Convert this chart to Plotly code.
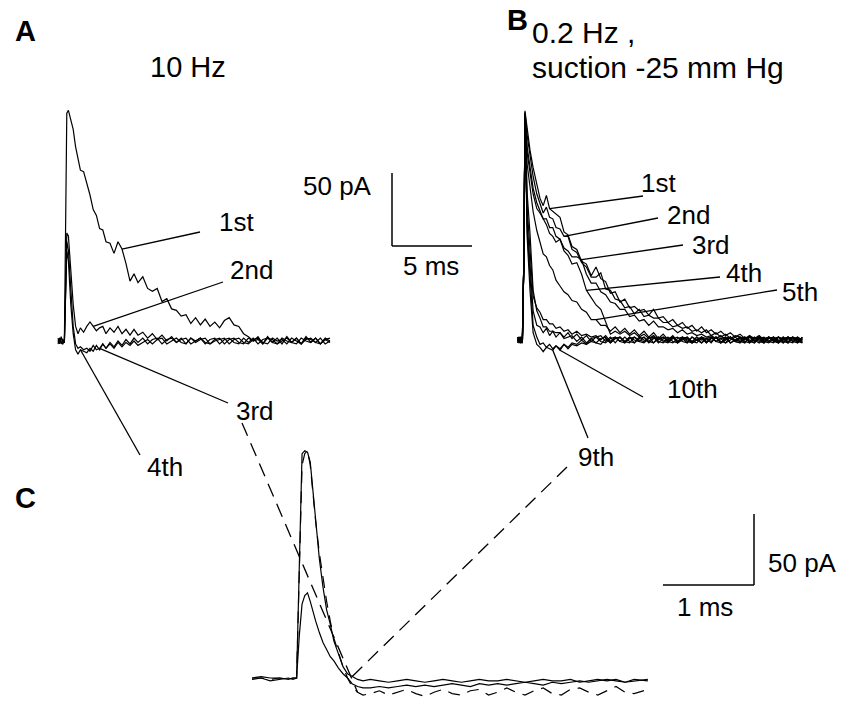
import plotly.graph_objects as go

W, H = 859, 705

# ---------------- Panel A (10 Hz): time (ms) and current (pA) ----------------
T_A = [0, 0.1, 0.2, 0.3, 0.4, 0.55, 0.65, 0.8, 0.95, 1.1,
       1.25, 1.4, 1.6, 1.8, 2.0, 2.2, 2.4, 2.6, 2.8, 3.0,
       3.25, 3.5, 3.75, 4.0, 4.25, 4.5, 4.75, 5.0, 5.3, 5.6,
       5.9, 6.2, 6.5, 6.8, 7.1, 7.4, 7.7, 8.0, 8.3, 8.6,
       8.9, 9.2, 9.5, 9.8, 10.1, 10.4, 10.7, 11.0, 11.3, 11.6,
       11.9, 12.2, 12.5, 12.8, 13.1, 13.4, 13.7, 14.0, 14.3, 14.6,
       14.9, 15.2, 15.5, 15.8, 16.1, 16.4, 16.7, 17.0]
A_1ST = [2, -2, 3, -1, 1, 156, 158, 152, 145, 133,
         126, 117, 116, 108, 100, 90, 86, 77, 76, 68,
         67, 60, 68, 63, 53, 41, 46, 40, 44, 36,
         34, 36, 27, 29, 22, 21, 17, 18, 12, 16,
         11, 15, 10, 13, 9, 14, 16, 11, 10, 5,
         3, 0, 3, -2, 3, -1, 2, -2, 3, -1,
         2, -2, 3, -1, 2, -2, 1, -1]
A_2ND = [-1, 2, -2, 1, 0, 74, 72, 50, 25, 10,
         5, 9, 6, 10, 13, 10, 7, 9, 10, 5,
         9, 6, 10, 5, 8, 4, 8, 4, 6, 2,
         5, 1, 4, 0, 3, -1, 2, -2, 2, 0,
         2, -2, 1, 2, -2, 1, 2, -1, -2, 2,
         -1, 2, -2, 1, 2, -1, -2, 2, 0, -1,
         2, -2, 1, 2, -1, -2, 2, 0]
A_3RD = [-2, 1, 2, -1, -1, 68, 62, 35, 10, -2,
         -5, -4, -6, -5, -7, -3, -6, -5, -2, -5,
         -1, -4, 0, -3, 1, -2, 2, -1, 2, -2,
         1, 2, -2, 1, 2, -1, 1, 2, -2, 0,
         2, -1, -2, 1, 2, -2, 1, 2, -1, -2,
         2, 0, 1, -2, 2, 1, -2, 0, 2, -1,
         -2, 2, 0, -1, 2, -2, 1, 2]
A_4TH = [0, 2, -1, -2, 0, 62, 55, 25, 5, -6,
         -9, -6, -7, -8, -5, -7, -3, -6, -2, -5,
         -2, -5, -1, -4, -1, -3, 0, -3, -1, 1,
         -2, 1, 2, -2, 0, 2, -1, -2, 2, -1,
         1, 2, -2, 0, 1, 2, -2, 1, 2, -1,
         -2, 1, 2, -1, -2, 2, 0, 1, -2, 2,
         0, -2, 2, 1, -1, 2, -2, 0]

# ---------------- Panel B (0.2 Hz, suction -25 mm Hg) ----------------
T_B = [0.1, 0.2, 0.3, 0.4, 0.5, 0.56, 0.7, 0.875, 1.07, 1.3,
       1.5, 1.7, 1.9, 2.1, 2.3, 2.5, 2.75, 3.0, 3.25, 3.5,
       3.8, 4.1, 4.4, 4.7, 5.0, 5.3, 5.6, 5.9, 6.2, 6.5,
       6.8, 7.1, 7.4, 7.7, 8.0, 8.3, 8.6, 8.9, 9.2, 9.5,
       9.8, 10.1, 10.4, 10.7, 11.0, 11.3, 11.6, 11.9, 12.2, 12.5,
       12.8, 13.1, 13.4, 13.7, 14.0, 14.3, 14.6, 14.9, 15.2, 15.5,
       15.8, 16.1, 16.4, 16.7, 17.0, 17.3, 17.6, 17.9]
B_1ST = [1, -2, 2, -1, 60, 157, 145, 130, 118, 106,
         97, 92, 99, 90, 88, 86, 84, 74, 72, 64,
         62, 54, 52, 44, 50, 42, 40, 32, 33, 26,
         28, 22, 23, 20, 21, 17, 21, 15, 16, 12,
         14, 10, 12, 8, 10, 6, 9, 5, 7, 4,
         6, 3, 5, 2, 4, 1, 3, 1, 3, 0,
         2, -1, 2, 0, 2, -1, 1, 0]
B_2ND = [-1, 1, 0, 2, 60, 156, 140, 126, 112, 100,
         93, 87, 91, 84, 83, 77, 76, 71, 71, 62,
         60, 53, 50, 43, 43, 46, 35, 34, 28, 27,
         22, 23, 18, 21, 16, 17, 15, 15, 12, 12,
         9, 10, 8, 9, 6, 7, 5, 7, 3, 5,
         2, 4, 1, 3, 2, 0, 3, -1, 2, 1,
         -1, 2, 0, -2, 2, 1, -1, 2]
B_3RD = [2, -1, 1, -2, 60, 155, 132, 118, 104, 94,
         89, 83, 83, 77, 77, 71, 69, 63, 61, 57,
         57, 55, 45, 39, 39, 33, 31, 26, 25, 21,
         21, 16, 17, 13, 14, 10, 13, 9, 9, 7,
         8, 5, 7, 4, 5, 3, 4, 2, 3, 1,
         3, 0, 2, -1, 2, 1, -1, 2, 0, -2,
         1, 2, -1, 1, -2, 2, 0, -1]
B_4TH = [-1, 1, -2, 2, 60, 155, 128, 114, 100, 90,
         87, 83, 79, 73, 71, 67, 69, 61, 58, 52,
         53, 45, 34, 29, 24, 21, 13, 4, 6, 4,
         6, 3, 5, 2, 4, 1, 3, 0, 2, -1,
         2, -2, 1, 2, -2, 0, 2, -2, 1, 2,
         -1, -2, 2, 0, -1, 2, -2, 1, 2, -1,
         1, 2, -2, 0, 2, -1, -2, 1]
B_5TH = [0, 2, -1, -2, 60, 155, 120, 103, 88, 75,
         67, 59, 57, 51, 48, 41, 37, 33, 31, 27,
         26, 21, 19, 14, 14, 10, 10, 6, 9, 5,
         8, 4, 7, 3, 6, 2, 5, 1, 4, 0,
         3, -1, 2, 1, -2, 0, 2, -1, 1, 2,
         -2, 1, 2, -1, -2, 1, 2, -1, 1, -2,
         2, 0, -1, 2, -2, 1, 2, -1]
B_6TH = [2, -1, -2, 1, 60, 154, 100, 73, 34, 20,
         15, 9, 9, 6, 6, 5, 5, 2, 5, 1,
         4, 0, 3, -1, 2, 3, -1, 2, -2, 2,
         -1, 2, -2, 1, 2, -1, -2, 2, 0, -1,
         2, -2, 0, 2, -1, -2, 2, 1, -1, 2,
         -2, 0, 2, -1, 1, -2, 2, 0, -2, 1,
         2, -1, -2, 2, 0, 1, -2, 2]
B_7TH = [-1, 2, 0, -2, 60, 154, 90, 60, 30, 22,
         19, 14, 14, 11, 11, 8, 9, 6, 7, 4,
         6, 3, 4, 2, 3, 0, 3, -1, 2, -1,
         -2, 2, 0, -1, 2, -2, 1, 2, -1, -2,
         1, 2, -1, -2, 2, 0, 1, -2, 2, -1,
         1, 2, -2, 0, 2, -1, -2, 1, 2, -1,
         -2, 1, 2, -1, -2, 2, 0, 1]
B_8TH = [-2, 1, 2, -1, 60, 154, 80, 50, 20, 10,
         9, 5, 8, 3, 6, 2, 5, 1, 2, 3,
         -1, 2, -2, 1, 2, -1, -2, 1, 2, -1,
         2, -1, -2, 2, 0, -1, 2, -2, 1, 2,
         -1, -2, 2, 0, -1, 2, -2, 1, 2, -1,
         -2, 2, 1, -1, -2, 2, 0, -2, 1, 2,
         -1, 0, 2, -2, 1, 2, -1, -2]
B_9TH = [1, -2, 1, 2, 60, 155, 70, 34, 5, -3,
         -5, -8, -5, -6, -7, -4, -6, -3, -5, -2,
         -3, 0, -3, 1, -2, 1, 2, -2, 1, 2,
         -1, -2, 2, 0, -1, 2, -2, 1, 2, -1,
         -2, 1, 2, -1, -2, 2, 0, 1, -2, 2,
         1, -2, 0, 2, -1, -2, 2, 1, -1, -2,
         2, 0, -2, 1, 2, -1, 1, -2]
B_10TH = [2, -1, 1, -2, 60, 155, 75, 40, 10, 2,
          -3, -2, -5, -3, -6, -4, -7, -3, -6, -3,
          -4, -2, -3, -1, -2, -3, 1, -2, 1, 2,
          -2, 1, 2, -1, -2, 1, 2, -1, -2, 1,
          2, -1, 1, -2, 2, 0, -2, 1, 2, -1,
          1, 2, -2, 0, 1, 2, -1, -2, 2, 0,
          -1, -2, 2, 1, -1, -2, 2, 0]

# ---------------- Panel C (expanded time base) ----------------
T_C = [0, 0.1, 0.2, 0.3, 0.4, 0.45, 0.49, 0.52, 0.55, 0.58,
       0.61, 0.64, 0.67, 0.7, 0.74, 0.78, 0.82, 0.86, 0.9, 0.95,
       1.0, 1.05, 1.1, 1.16, 1.22, 1.3, 1.4, 1.5, 1.6, 1.7,
       1.8, 1.9, 2.0, 2.1, 2.2, 2.3, 2.4, 2.5, 2.6, 2.7,
       2.8, 2.9, 3.0, 3.1, 3.2, 3.3, 3.4, 3.5, 3.6, 3.7,
       3.8, 3.9, 4.0, 4.1, 4.2, 4.35]
C_9TH = [0, 1, 0, 0, -1, 0, 0, 90, 158, 160,
         159, 152, 132, 112, 84, 64, 48, 38, 26, 17,
         8, 3, 1, -1, -2, -1, -2, -3, -2, -1,
         -2, -3, -2, -1, -2, -3, -2, -1, -2, -2,
         -1, -2, -3, -2, -1, -2, -2, -1, -3, -2,
         -1, -2, -1, -3, -2, -1]
C_3RD = [-1, 0, -2, -1, 0, -1, 0, 30, 52, 58,
         60, 54, 46, 40, 32, 25, 20, 15, 12, 7,
         3, 0, -4, -6, -7, -7, -6, -7, -6, -5,
         -6, -5, -6, -5, -4, -5, -6, -4, -5, -4,
         -5, -4, -3, -4, -5, -3, -4, -3, -2, -3,
         -2, -1, -2, -3, -1, -2]
C_3RD_SCALED = [0, 0, -1, 0, -1, 0, 0, 80, 150, 158,
                160, 150, 128, 110, 88, 70, 54, 40, 28, 18,
                8, 0, -6, -10, -12, -11, -9, -12, -10, -8,
                -11, -13, -10, -8, -11, -12, -9, -8, -12, -10,
                -7, -10, -12, -9, -7, -11, -12, -8, -7, -10,
                -12, -9, -6, -10, -11, -8]

SCALE_PA = 50
SCALE_MS_A = 5
SCALE_MS_C = 1

# ---------------- geometry (pixel placement of each panel) ----------------
PANELS = {
    "A": dict(x0=58, y0=341, sx=16.0, sy=1.46, xa="x", ya="y"),
    "B": dict(x0=516, y0=340, sx=16.0, sy=1.46, xa="x2", ya="y2"),
    "C": dict(x0=252, y0=678, sx=91.0, sy=1.42, xa="x3", ya="y3"),
}


def to_data(p, px, py):
    g = PANELS[p]
    return (px - g["x0"]) / g["sx"], (g["y0"] - py) / g["sy"]


FONT = "Liberation Sans, Arial, Helvetica, sans-serif"
fig = go.Figure()

LW = 1.2


def add_trace(p, t, v, dash="solid", width=LW):
    g = PANELS[p]
    fig.add_trace(go.Scatter(x=t, y=v, mode="lines", xaxis=g["xa"], yaxis=g["ya"],
                             line=dict(color="black", width=width, dash=dash),
                             hoverinfo="skip", showlegend=False))


for v in (A_4TH, A_3RD, A_2ND, A_1ST):
    add_trace("A", T_A, v)
for v in (B_10TH, B_9TH, B_8TH, B_7TH, B_6TH, B_5TH, B_4TH, B_3RD, B_2ND, B_1ST):
    add_trace("B", T_B, v)
add_trace("C", T_C, C_3RD_SCALED, dash="12px,8px")
add_trace("C", T_C, C_3RD)
add_trace("C", T_C, C_9TH)

shapes = []


def line_shape(p, x0, y0, x1, y1, dash="solid", width=1.3):
    g = PANELS[p]
    shapes.append(dict(type="line", xref=g["xa"], yref=g["ya"], x0=x0, y0=y0, x1=x1, y1=y1,
                       line=dict(color="black", width=width, dash=dash)))


def leader(p, start_px, t, v, ti, dash="solid"):
    sx, sy = to_data(p, *start_px)
    k = t.index(ti)
    line_shape(p, sx, sy, t[k], v[k], dash=dash)


# leaders, panel A
leader("A", (200, 232), T_A, A_1ST, 4.0)
leader("A", (223, 282), T_A, A_2ND, 2.2)
leader("A", (228, 403), T_A, A_3RD, 2.6)
leader("A", (140, 455), T_A, A_4TH, 1.4)
# leaders, panel B
leader("B", (643, 196), T_B, B_1ST, 2.1)
leader("B", (658, 218), T_B, B_2ND, 3.0)
leader("B", (683, 245), T_B, B_3RD, 4.1)
leader("B", (720, 277), T_B, B_4TH, 4.4)
leader("B", (777, 290), T_B, B_5TH, 5.0)
leader("B", (643, 397), T_B, B_10TH, 2.75)
leader("B", (588, 438), T_B, B_9TH, 2.3)
# dashed connectors to panel C
leader("C", (242, 423), T_C, C_3RD_SCALED, 1.16, dash="14px,8px")
leader("C", (567, 467), T_C, C_9TH, 1.1, dash="14px,8px")

# scale bars
ta, ia = to_data("A", 392, 246)
line_shape("A", ta, ia, ta, ia + SCALE_PA, width=1.5)
line_shape("A", ta, ia, ta + SCALE_MS_A, ia, width=1.5)
tc, ic = to_data("C", 754, 585)
line_shape("C", tc, ic, tc, ic + SCALE_PA, width=1.5)
line_shape("C", tc, ic, tc - SCALE_MS_C, ic, width=1.5)

annotations = []


def label(text, px, py, size=26, xanchor="center", bold=False):
    annotations.append(dict(text=("<b>%s</b>" % text) if bold else text,
                            x=px / W, y=1 - py / H, xref="paper", yref="paper",
                            xanchor=xanchor, yanchor="middle", showarrow=False,
                            font=dict(family=FONT, size=size, color="black")))


label("A", 25, 31, size=29, bold=True)
label("B", 517, 20, size=29, bold=True)
label("C", 25, 498, size=29, bold=True)
label("10 Hz", 188, 67, size=29)
label("0.2 Hz ,", 530, 33, size=30, xanchor="left")
label("suction -25 mm Hg", 530, 67, size=30, xanchor="left")
label("50 pA", 374, 186, xanchor="right")
label("%d ms" % SCALE_MS_A, 431, 266)
label("50 pA", 766, 563, xanchor="left")
label("%d ms" % SCALE_MS_C, 705, 607)
label("1st", 236, 222)
label("2nd", 252, 270)
label("3rd", 255, 411)
label("4th", 165, 467)
label("1st", 658, 183)
label("2nd", 688, 215)
label("3rd", 711, 245)
label("4th", 744, 273)
label("5th", 800, 292)
label("10th", 692, 389)
label("9th", 596, 457)

layout_axes = {}
for name, p in (("", "A"), ("2", "B"), ("3", "C")):
    x_lo, y_top = to_data(p, 0, 0)
    x_hi, y_bot = to_data(p, W, H)
    layout_axes["xaxis" + name] = dict(domain=[0, 1], range=[x_lo, x_hi], visible=False,
                                       fixedrange=True, anchor="y" + name)
    layout_axes["yaxis" + name] = dict(domain=[0, 1], range=[y_bot, y_top], visible=False,
                                       fixedrange=True, anchor="x" + name)

fig.update_layout(width=W, height=H, margin=dict(l=0, r=0, t=0, b=0),
                  paper_bgcolor="white", plot_bgcolor="rgba(0,0,0,0)",
                  shapes=shapes, annotations=annotations, showlegend=False,
                  **layout_axes)

fig.write_html("out.html", config={"displayModeBar": False},
               post_script="document.body.style.margin='0';document.body.style.overflow='hidden';")
